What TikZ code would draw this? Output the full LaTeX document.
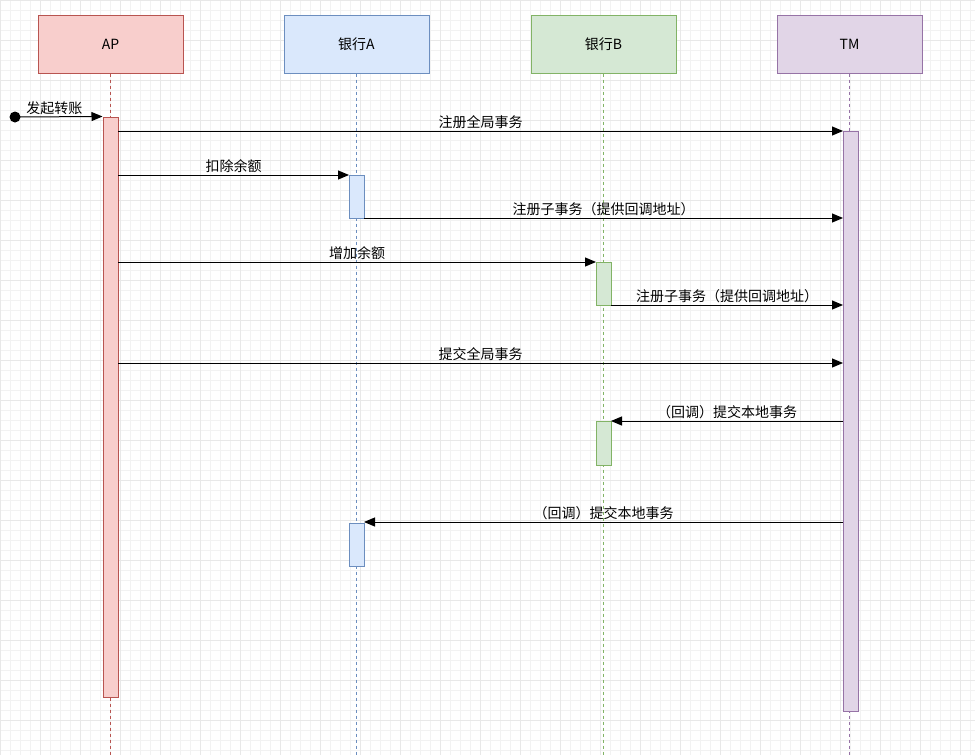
\documentclass[tikz,border=0pt]{standalone}
\usepackage{fontspec}
\setmainfont{Noto Sans CJK SC}
\usetikzlibrary{arrows.meta}
\definecolor{apF}{HTML}{F8CECC}\definecolor{apD}{HTML}{B85450}
\definecolor{aF}{HTML}{DAE8FC}\definecolor{aD}{HTML}{6C8EBF}
\definecolor{bF}{HTML}{D5E8D4}\definecolor{bD}{HTML}{82B366}
\definecolor{tF}{HTML}{E1D5E7}\definecolor{tD}{HTML}{9673A6}
\begin{document}
\begin{tikzpicture}[x=1pt,y=-1pt,
  head/.style={draw=#1D,fill=#1F,minimum width=145pt,minimum height=58pt,font=\fontsize{14}{16}\selectfont,inner sep=0pt,line width=1pt},
  life/.style={draw=#1D,dash pattern=on 3pt off 3pt,line width=1pt},
  act/.style={draw=#1D,fill=#1F,minimum width=15pt,inner sep=0pt,line width=1pt},
  msg/.style={-{Triangle[length=11pt,width=9pt]},line width=1pt},
  lab/.style={font=\fontsize{14}{16}\selectfont,inner sep=2pt}]
\useasboundingbox (0,0) rectangle (975,755);
\fill[white] (0,0) rectangle (975,755);
\foreach \i in {0,10,...,970} \draw[black!5,line width=0.5pt] (\i,0) -- (\i,755);
\foreach \i in {0,10,...,750} \draw[black!5,line width=0.5pt] (0,\i) -- (975,\i);
\foreach \i in {0,40,...,970} \draw[black!9,line width=0.5pt] (\i,0) -- (\i,755);
\foreach \i in {0,40,...,750} \draw[black!9,line width=0.5pt] (0,\i) -- (975,\i);
\node[head=ap] (AP) at (110.5,44) {AP};
\node[head=a] (A) at (356.5,44) {银行A};
\node[head=b] (B) at (603.5,44) {银行B};
\node[head=t] (TM) at (849.5,44) {TM};
\coordinate (e1) at (110.5,755);\coordinate (e2) at (356.5,755);
\coordinate (e3) at (603.5,755);\coordinate (e4) at (849.5,755);
\draw[life=ap] (AP.south) -- (e1);
\draw[life=a] (A.south) -- (e2);
\draw[life=b] (B.south) -- (e3);
\draw[life=t] (TM.south) -- (e4);
\node[act=ap,minimum height=580pt] (apA) at (110.5,407) {};
\node[act=t,minimum height=580pt] (tmA) at (850.5,421) {};
\node[act=a,minimum height=43pt] (a1) at (356.5,196.5) {};
\node[act=a,minimum height=43pt] (a2) at (356.5,544.5) {};
\node[act=b,minimum height=43pt] (b1) at (603.5,283.5) {};
\node[act=b,minimum height=44pt] (b2) at (603.5,443) {};
\node[circle,fill=black,inner sep=0pt,minimum size=11pt] (st) at (15,117) {};
\draw[msg] (st.center) -- (apA.north west) node[lab,pos=0.45,above] {发起转账};
\draw[msg] (118,131) -- (843,131) node[lab,midway,above] {注册全局事务};
\draw[msg] (118,175) -- (349,175) node[lab,midway,above] {扣除余额};
\draw[msg] (364,218) -- (843,218) node[lab,midway,above] {注册子事务（提供回调地址）};
\draw[msg] (118,262) -- (596,262) node[lab,midway,above] {增加余额};
\draw[msg] (611,305) -- (843,305) node[lab,midway,above] {注册子事务（提供回调地址）};
\draw[msg] (118,363) -- (843,363) node[lab,midway,above] {提交全局事务};
\draw[msg] (843,421) -- (611,421) node[lab,midway,above] {（回调）提交本地事务};
\draw[msg] (843,522) -- (364,522) node[lab,midway,above] {（回调）提交本地事务};
\end{tikzpicture}
\end{document}
